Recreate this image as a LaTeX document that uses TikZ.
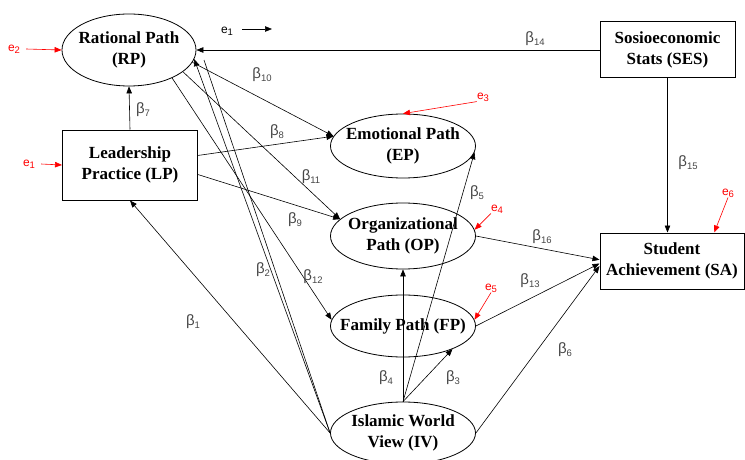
\documentclass[tikz,border=0pt]{standalone}
\usepackage{fontspec}
\setmainfont{Liberation Serif}
\newfontfamily\nodefont{Liberation Serif}
\newfontfamily\labfont{Liberation Sans}
\usetikzlibrary{shapes.geometric,arrows.meta}
\definecolor{lblgray}{RGB}{70,70,70}
\newcommand\bsub[2]{#1\raisebox{-0.35ex}{\fontsize{9.5}{9.5}\selectfont #2}}
\tikzset{
  nodetext/.style={align=center, inner sep=0pt, font=\nodefont\bfseries\fontsize{17}{21}\selectfont},
  latent/.style={ellipse, draw, line width=0.8pt, fill=white, inner sep=0pt,
    minimum width=145pt, minimum height=64pt},
  obsbox/.style={rectangle, draw, line width=1pt, fill=white, inner sep=0pt,
    nodetext},
  arr/.style={-{Triangle[length=7pt,width=5.5pt]}, line width=0.6pt},
  errarr/.style={arr, red},
  blab/.style={text=lblgray, font=\labfont\fontsize{15}{15}\selectfont, inner sep=0pt},
  elab/.style={text=red, font=\labfont\fontsize{12}{12}\selectfont, inner sep=0pt},
}
\begin{document}
\begin{tikzpicture}[x=1pt,y=-1pt]
\useasboundingbox (0,0) rectangle (745,460);
% nodes
\node[latent, minimum width=134pt, minimum height=72pt,
  label={[nodetext]center:Rational Path\\(RP)}] (RP) at (129,50) {};
\node[obsbox, minimum width=135pt, minimum height=70pt] (LP) at (130,165) {Leadership\\Practice (LP)};
\node[latent, label={[nodetext]center:Emotional Path\\(EP)}] (EP) at (403,146) {};
\node[latent, minimum height=66pt, label={[nodetext]center:Organizational\\Path (OP)}] (OP) at (403,236) {};
\node[latent, minimum height=62pt, label={[nodetext]center:Family Path (FP)}] (FP) at (403,326) {};
\node[latent, minimum height=62pt, label={[nodetext]center:Islamic World\\View (IV)}] (IV) at (403,433) {};
\node[obsbox, minimum width=135pt, minimum height=56pt] (SES) at (667.5,50) {Sosioeconomic\\Stats (SES)};
\node[obsbox, minimum width=144pt, minimum height=56pt] (SA) at (672,261) {Student\\Achievement (SA)};

% structural paths
\draw[arr] (SES.west) -- (RP.east);
\draw[arr] (LP.north) -- (RP.south);
\draw[arr] (RP.-11) -- (EP.172);
\draw[arr] (LP.8) -- (EP.172);
\draw[arr] (RP.-22) -- (OP.165);
\draw[arr] (LP.-8) -- (OP.165);
\draw[arr] (RP.-33) -- (FP.175);
\draw[arr] (IV.west) -- (RP.-8);
\coordinate (rp2) at (204,60);
\draw[line width=0.6pt] (IV.west) -- (rp2);
\draw[arr] (IV.west) -- (LP.south);
\draw[arr] (IV.north) -- (EP.-5);
\draw[arr] (IV.north) -- (OP.south);
\draw[arr] (IV.north) -- (FP.-25);
\draw[arr] (IV.east) -- (SA.184);
\draw[arr] (OP.east) -- (SA.179);
\draw[arr] (FP.east) -- (SA.182);
\draw[arr] (SES.south) -- (SES.south |- SA.north);

% beta labels
\node[blab] (b14) at (535,39) {\bsub{β}{14}};
\node[blab] (b15) at (688,163) {\bsub{β}{15}};
\node[blab] (b16) at (542,237) {\bsub{β}{16}};
\node[blab] (b13) at (530,281) {\bsub{β}{13}};
\node[blab] (b6) at (565,350) {\bsub{β}{6}};
\node[blab] (b5) at (477,193) {\bsub{β}{5}};
\node[blab] (b4) at (386,378) {\bsub{β}{4}};
\node[blab] (b3) at (453,378) {\bsub{β}{3}};
\node[blab] (b12) at (313,277) {\bsub{β}{12}};
\node[blab] (b2) at (263,270) {\bsub{β}{2}};
\node[blab] (b1) at (193,322) {\bsub{β}{1}};
\node[blab] (b9) at (295,220) {\bsub{β}{9}};
\node[blab] (b11) at (311,177) {\bsub{β}{11}};
\node[blab] (b8) at (277,132) {\bsub{β}{8}};
\node[blab] (b10) at (262,75) {\bsub{β}{10}};
\node[blab] (b7) at (143,110) {\bsub{β}{7}};

% error terms
\node[elab, text=black] (e1t) at (227,31) {\bsub{e}{1}};
\coordinate (e1ts) at (242,29);
\coordinate (e1te) at (272,29);
\draw[arr] (e1ts) -- (e1te);

\node[elab] (e2) at (14,49) {\bsub{e}{2}};
\draw[errarr] (e2.east) ++(6pt,0) coordinate (e2s) (e2s) -- (RP.west);
\node[elab] (e1) at (29,164) {\bsub{e}{1}};
\draw[errarr] (e1.east) ++(6pt,0) coordinate (e1s) (e1s) -- (LP.west);
\node[elab] (e3) at (483,97) {\bsub{e}{3}};
\draw[errarr] (e3.south west) -- (EP.north);
\node[elab] (e4) at (497,209) {\bsub{e}{4}};
\draw[errarr] (e4.south west) -- (OP.5);
\node[elab] (e5) at (491,288) {\bsub{e}{5}};
\draw[errarr] (e5.south) -- (FP.5);
\node[elab] (e6) at (728,193) {\bsub{e}{6}};
\draw[errarr] (e6.south) -- (SA.34);
\end{tikzpicture}
\end{document}
